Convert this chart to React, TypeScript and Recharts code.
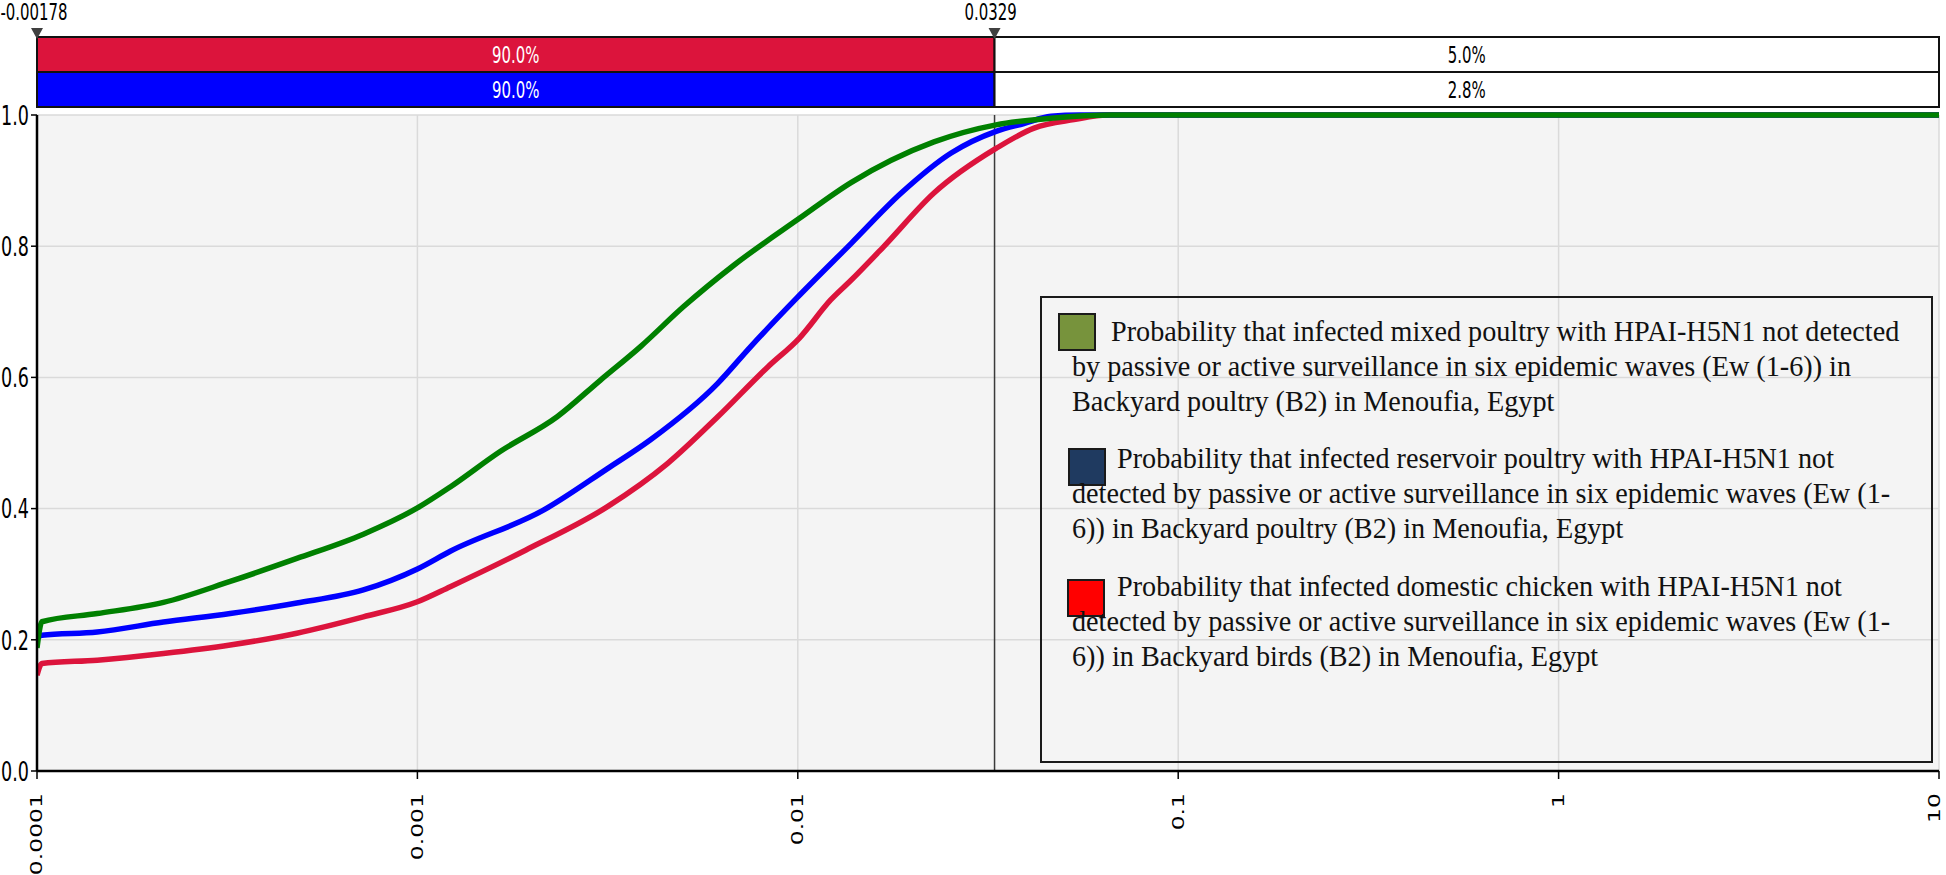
import React from 'react';
import {
  LineChart,
  Line,
  XAxis,
  YAxis,
  CartesianGrid,
  ReferenceLine,
  ReferenceArea,
  ReferenceDot,
  Legend,
} from 'recharts';

// cumulative probability curves (x on a log scale)
const mixedPoultry = [
  { x: 0.0001, y: 0.1875 },
  { x: 0.000103, y: 0.2275 },
  { x: 0.000144, y: 0.24 },
  { x: 0.000215, y: 0.257 },
  { x: 0.000322, y: 0.289 },
  { x: 0.000482, y: 0.324 },
  { x: 0.000721, y: 0.361 },
  { x: 0.001, y: 0.401 },
  { x: 0.00122, y: 0.433 },
  { x: 0.00165, y: 0.487 },
  { x: 0.00233, y: 0.54 },
  { x: 0.00303, y: 0.596 },
  { x: 0.00386, y: 0.647 },
  { x: 0.00501, y: 0.708 },
  { x: 0.00679, y: 0.771 },
  { x: 0.0101, y: 0.8425 },
  { x: 0.0138, y: 0.897 },
  { x: 0.0176, y: 0.931 },
  { x: 0.0228, y: 0.959 },
  { x: 0.0332, y: 0.985 },
  { x: 0.0463, y: 0.995 },
  { x: 0.0666, y: 1.0 },
  { x: 10, y: 1.0 },
];

const reservoirPoultry = [
  { x: 0.0001, y: 0.203 },
  { x: 0.000103, y: 0.207 },
  { x: 0.000144, y: 0.212 },
  { x: 0.000215, y: 0.227 },
  { x: 0.000322, y: 0.24 },
  { x: 0.000482, y: 0.256 },
  { x: 0.000721, y: 0.276 },
  { x: 0.001, y: 0.308 },
  { x: 0.00122, y: 0.335 },
  { x: 0.00215, y: 0.398 },
  { x: 0.00316, y: 0.461 },
  { x: 0.0041, y: 0.505 },
  { x: 0.00616, y: 0.591 },
  { x: 0.00752, y: 0.647 },
  { x: 0.0099, y: 0.72 },
  { x: 0.0138, y: 0.804 },
  { x: 0.0187, y: 0.881 },
  { x: 0.0253, y: 0.942 },
  { x: 0.0332, y: 0.975 },
  { x: 0.0393, y: 0.987 },
  { x: 0.0463, y: 0.998 },
  { x: 0.055, y: 1.0 },
  { x: 10, y: 1.0 },
];

const domesticChicken = [
  { x: 0.0001, y: 0.146 },
  { x: 0.000103, y: 0.164 },
  { x: 0.000144, y: 0.169 },
  { x: 0.000215, y: 0.179 },
  { x: 0.000322, y: 0.192 },
  { x: 0.000482, y: 0.21 },
  { x: 0.000721, y: 0.235 },
  { x: 0.001, y: 0.258 },
  { x: 0.00122, y: 0.281 },
  { x: 0.00193, y: 0.337 },
  { x: 0.00316, y: 0.403 },
  { x: 0.00455, y: 0.469 },
  { x: 0.00616, y: 0.54 },
  { x: 0.00834, y: 0.616 },
  { x: 0.0101, y: 0.66 },
  { x: 0.0122, y: 0.718 },
  { x: 0.0138, y: 0.748 },
  { x: 0.0168, y: 0.799 },
  { x: 0.0228, y: 0.881 },
  { x: 0.0332, y: 0.949 },
  { x: 0.0418, y: 0.98 },
  { x: 0.0532, y: 0.993 },
  { x: 0.065, y: 1.0 },
  { x: 10, y: 1.0 },
];

const xTicks = [0.0001, 0.001, 0.01, 0.1, 1, 10];
const xTickLabels = ['0.0001', '0.001', '0.01', '0.1', '1', '10'];
const yTicks = [0, 0.2, 0.4, 0.6, 0.8, 1.0];
const yTickLabels = ['0.0', '0.2', '0.4', '0.6', '0.8', '1.0'];

// delimiters; -0.00178 can't sit on a log axis so it is drawn at the axis floor
const markerValues = [0.0001, 0.0329];
const markerLabels = ['-0.00178', '0.0329'];

// the two percentile bands above the plot (domestic chicken, reservoir poultry)
const bandInside = ['90.0%', '90.0%'];
const bandOutside = ['5.0%', '2.8%'];
const bandColors = ['#dc143c', '#0000ff'];

const legendColors = ['#77933c', '#1f3a60', '#ff0000'];
const legendLines = [
  [
    'Probability that infected mixed poultry with HPAI-H5N1 not detected',
    'by passive or active surveillance in six epidemic waves (Ew (1-6)) in',
    'Backyard poultry (B2) in Menoufia, Egypt',
  ],
  [
    'Probability that infected reservoir poultry with HPAI-H5N1 not',
    'detected by passive or active surveillance in six epidemic waves (Ew (1-',
    '6)) in Backyard poultry (B2) in Menoufia, Egypt',
  ],
  [
    'Probability that infected domestic chicken with HPAI-H5N1 not',
    'detected by passive or active surveillance in six epidemic waves (Ew (1-',
    '6)) in Backyard birds (B2) in Menoufia, Egypt',
  ],
];

const W = 1946;
const H = 875;
const NUM_FONT = 'DejaVu Sans, Verdana, sans-serif';
const SQUISH = 0.65;

const XTick = (props: any) => {
  const { x, y, payload } = props;
  const label = xTickLabels[xTicks.indexOf(payload.value)] ?? String(payload.value);
  // keep the last label inside the page edge
  const lx = Math.min(x, W - 11);
  return (
    <text
      transform={`translate(${lx},${y + 12}) rotate(-90) scale(1,${SQUISH})`}
      textAnchor="end"
      dy="0.35em"
      fontSize={23.5}
      fontFamily={NUM_FONT}
      fill="#000"
    >
      {label}
    </text>
  );
};

const YTick = (props: any) => {
  const { x, y, payload } = props;
  const label = yTickLabels[yTicks.indexOf(payload.value)] ?? String(payload.value);
  return (
    <text
      transform={`translate(${x},${y}) scale(${SQUISH},1)`}
      textAnchor="end"
      dy="0.36em"
      fontSize={27}
      fontFamily={NUM_FONT}
      fill="#000"
    >
      {label}
    </text>
  );
};

const BandLabel = (props: any) => {
  const { viewBox, text, color } = props;
  if (!viewBox) return null;
  const cx = viewBox.x + viewBox.width / 2;
  const cy = viewBox.y + viewBox.height / 2;
  return (
    <text
      transform={`translate(${cx},${cy}) scale(${SQUISH},1)`}
      textAnchor="middle"
      dy="0.36em"
      fontSize={23}
      fontFamily={NUM_FONT}
      fill={color}
    >
      {text}
    </text>
  );
};

const makeMarker = (label: string) => (props: any) => {
  const { cx, cy } = props;
  return (
    <g>
      <path d={`M${cx - 6},${cy - 9} L${cx + 6},${cy - 9} L${cx},${cy + 2} Z`} fill="#404040" />
      <text
        transform={`translate(${Math.max(cx - 4, 34)},${cy - 17}) scale(${SQUISH},1)`}
        textAnchor="middle"
        fontSize={23}
        fontFamily={NUM_FONT}
        fill="#000"
      >
        {label}
      </text>
    </g>
  );
};

const squarePos = [
  { x: 17, y: 16 },
  { x: 27, y: 151 },
  { x: 26, y: 282 },
];
const firstLineX = [69, 75, 75];
const entryTop = [43, 170, 298];

const renderLegend = () => (
  <div
    style={{
      width: 893,
      height: 467,
      border: '2px solid #1a1a1a',
      boxSizing: 'border-box',
    }}
  >
    <svg width={889} height={463} style={{ display: 'block' }}>
      {legendLines.map((lines, i) => (
        <g key={i}>
          <rect
            x={squarePos[i].x}
            y={squarePos[i].y}
            width={36}
            height={36}
            fill={legendColors[i]}
            stroke="#1a1a1a"
            strokeWidth={2}
          />
          {lines.map((line, j) => (
            <text
              key={j}
              transform={`translate(${j === 0 ? firstLineX[i] : 30},${entryTop[i] + j * 35}) scale(0.94,1)`}
              fontSize={30}
              fontFamily="Liberation Serif, Times New Roman, serif"
              fill="#111"
            >
              {line}
            </text>
          ))}
        </g>
      ))}
    </svg>
  </div>
);

export default function App() {
  return (
    <div style={{ position: 'absolute', left: 0, top: 0, width: W, height: H, background: '#fff' }}>
      <div style={{ position: 'absolute', left: 0, top: 0 }}>
        <LineChart width={W} height={H} margin={{ top: 115, right: 7, bottom: 0, left: 0 }}>
          <CartesianGrid fill="#f4f4f4" stroke="#dadada" strokeWidth={1.5} />
          <XAxis
            dataKey="x"
            type="number"
            scale="log"
            domain={[xTicks[0], xTicks[xTicks.length - 1]]}
            ticks={xTicks}
            interval={0}
            allowDataOverflow
            height={104}
            tickSize={8}
            tick={<XTick />}
            axisLine={{ stroke: '#000', strokeWidth: 2.5 }}
            tickLine={{ stroke: '#000', strokeWidth: 1.5 }}
          />
          <YAxis
            type="number"
            domain={[0, 1]}
            ticks={yTicks}
            interval={0}
            width={37}
            tickSize={6}
            tick={<YTick />}
            axisLine={{ stroke: '#000', strokeWidth: 2.5 }}
            tickLine={{ stroke: '#000', strokeWidth: 1.5 }}
          />
          <ReferenceLine x={markerValues[1]} stroke="#3a3a3a" strokeWidth={1.5} />
          <Line
            data={domesticChicken}
            dataKey="y"
            type="monotone"
            stroke="#dc143c"
            strokeWidth={5.5}
            dot={false}
            isAnimationActive={false}
          />
          <Line
            data={reservoirPoultry}
            dataKey="y"
            type="monotone"
            stroke="#0000ff"
            strokeWidth={5.5}
            dot={false}
            isAnimationActive={false}
          />
          <Line
            data={mixedPoultry}
            dataKey="y"
            type="monotone"
            stroke="#008000"
            strokeWidth={5.5}
            dot={false}
            isAnimationActive={false}
          />
          <Legend
            content={renderLegend}
            layout="horizontal"
            verticalAlign="middle"
            align="center"
            wrapperStyle={{ position: 'absolute', left: 1040, top: 296, width: 893, height: 467 }}
          />
        </LineChart>
      </div>
      <div style={{ position: 'absolute', left: 0, top: 0 }}>
        <LineChart width={W} height={115} margin={{ top: 37, right: 7, bottom: 8, left: 37 }}>
          <XAxis
            dataKey="x"
            type="number"
            scale="log"
            domain={[xTicks[0], xTicks[xTicks.length - 1]]}
            allowDataOverflow
            hide
          />
          <YAxis type="number" domain={[0, 2]} allowDataOverflow hide />
          {bandColors.map((color, i) => (
            <ReferenceArea
              key={`in${i}`}
              x1={xTicks[0]}
              x2={markerValues[1]}
              y1={1 - i}
              y2={2 - i}
              fill={color}
              fillOpacity={1}
              stroke="#111"
              strokeWidth={2}
              label={<BandLabel text={bandInside[i]} color="#fff" />}
            />
          ))}
          {bandColors.map((_, i) => (
            <ReferenceArea
              key={`out${i}`}
              x1={markerValues[1]}
              x2={xTicks[xTicks.length - 1]}
              y1={1 - i}
              y2={2 - i}
              fill="#fff"
              fillOpacity={1}
              stroke="#111"
              strokeWidth={2}
              label={<BandLabel text={bandOutside[i]} color="#000" />}
            />
          ))}
          {markerValues.map((v, i) => (
            <ReferenceDot key={`m${i}`} x={v} y={2} r={0} shape={makeMarker(markerLabels[i])} />
          ))}
        </LineChart>
      </div>
    </div>
  );
}
